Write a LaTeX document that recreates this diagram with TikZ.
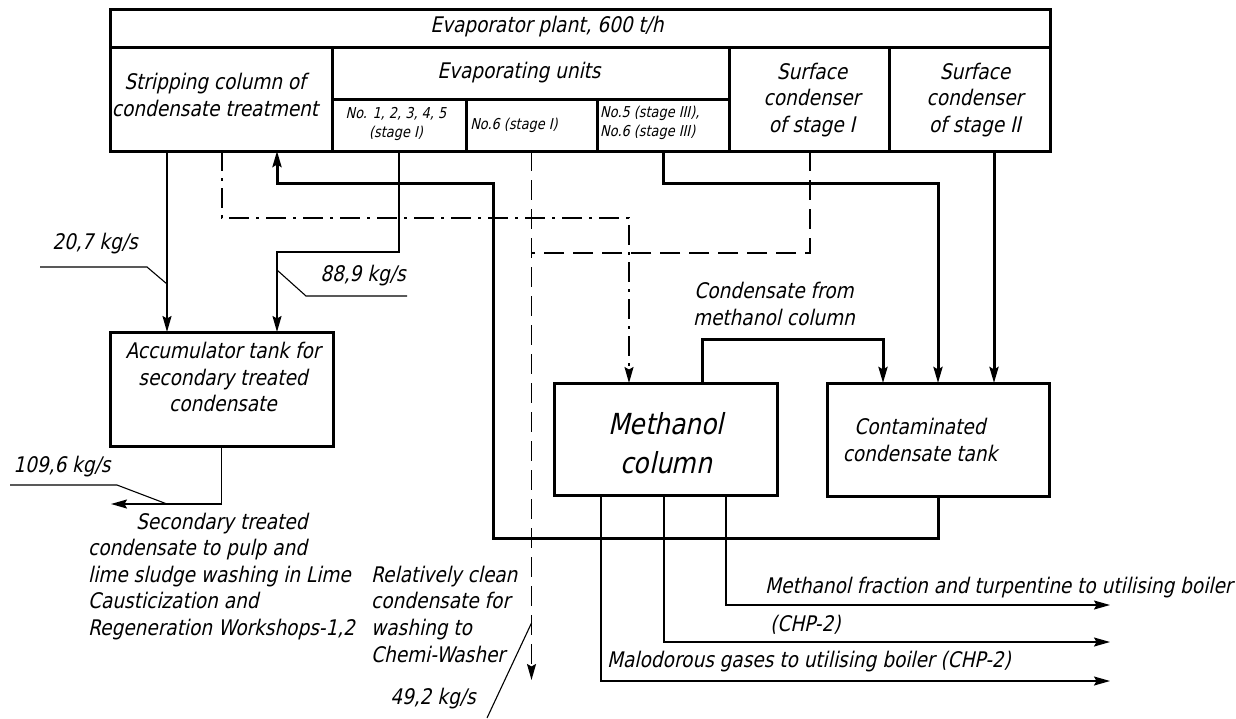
\documentclass[tikz,border=0pt]{standalone}
\usepackage{fontspec}
\setmainfont{DejaVu Sans}[FakeStretch=0.86,FakeSlant=0.22]
\usetikzlibrary{arrows.meta}
\begin{document}
\begin{tikzpicture}[x=1pt,y=-1pt,
  cell/.style={draw,line width=3pt,inner sep=0pt,outer sep=0pt},
  txt/.style={font=\fontsize{21.5}{26.5}\selectfont,inner sep=0pt,align=center},
  small/.style={font=\fontsize{15}{19}\selectfont,inner sep=0pt,align=center},
  big/.style={font=\fontsize{29}{39}\selectfont,inner sep=0pt,align=center},
  lt/.style={font=\fontsize{21.5}{26.5}\selectfont,inner sep=0pt,anchor=base west},
  arr/.style={-{Stealth[length=16pt,width=9pt,inset=2.5pt]}},
  flow/.style={line width=1.6pt,arr},
  thickflow/.style={line width=3pt,arr},
  leader/.style={line width=1.1pt},
  dashedl/.style={line width=1.6pt,dash pattern=on 20pt off 9pt},
  dashdot/.style={line width=1.6pt,dash pattern=on 20pt off 7pt on 3pt off 7pt},
]
\useasboundingbox (0,0) rectangle (1236,718);

% ---- top table ----
\node[cell,minimum width=940pt,minimum height=38pt] (title) at (580,28) {};
\node[cell,minimum width=222pt,minimum height=104pt] (strip) at (221,99) {};
\node[cell,minimum width=397pt,minimum height=52pt] (evap) at (530.5,73) {};
\node[cell,minimum width=134pt,minimum height=52pt] (u1) at (399,125) {};
\node[cell,minimum width=131pt,minimum height=52pt] (u2) at (531.5,125) {};
\node[cell,minimum width=132pt,minimum height=52pt] (u3) at (663,125) {};
\node[cell,minimum width=160pt,minimum height=104pt] (sc1) at (809,99) {};
\node[cell,minimum width=161pt,minimum height=104pt] (sc2) at (969.5,99) {};

\node[txt] (titletxt) at (547,27) {Evaporator plant, 600 t/h};
\node[txt] (striptxt) at (215,95) {Stripping column of\\condensate treatment};
\node[txt] (evaptxt) at (519,73) {Evaporating units};
\node[small] (u1txt) at (396,124) {No. 1, 2, 3, 4, 5\\(stage I)};
\node[small] (u2txt) at (514,125) {No.6 (stage I)};
\node[small,align=left,anchor=west] (u3txt) at (600,123) {No.5 (stage III),\\No.6 (stage III)};
\node[txt] (sc1txt) at (812,100) {Surface\\condenser\\of stage I};
\node[txt] (sc2txt) at (975,100) {Surface\\condenser\\of stage II};

% ---- lower boxes ----
\node[cell,minimum width=223pt,minimum height=114pt] (acc) at (221.5,389) {};
\node[txt] (acctxt) at (223,377) {Accumulator tank for\\secondary treated\\condensate};
\node[cell,minimum width=223pt,minimum height=112pt] (meth) at (665.5,439) {};
\node[big] (methtxt) at (666,443) {Methanol\\column};
\node[cell,minimum width=222pt,minimum height=113pt] (contam) at (938,439.5) {};
\node[txt] (contamtxt) at (920,440) {Contaminated\\condensate tank};

% ---- connectors ----
\draw[flow] (167,0 |- strip.south) -- (167,0 |- acc.north);
\draw[flow] (399,0 |- u1.south) -- (399,252) -- (277,252) -- (277,0 |- acc.north);
\draw[dashdot,arr] (222,0 |- strip.south) -- (222,218) -- (629,218) -- (629,0 |- meth.north);
\draw[thickflow] (contam.south) -- (938,538) -- (493,538) -- (493,183) -- (277,183) -- (277,0 |- strip.south);
\draw[thickflow] (u3.south) -- (663,183) -- (938,183) -- (938,0 |- contam.north);
\draw[thickflow] (994,0 |- sc2.south) -- (994,0 |- contam.north);
\draw[thickflow] (702,0 |- meth.north) -- (702,339) -- (883,339) -- (883,0 |- contam.north);
\draw[dashedl] (810,0 |- sc1.south) -- (810,253) -- (531.5,253);
\coordinate (cw) at (531.5,680);
\draw[dashedl,arr] (u2.south) -- (cw);
\coordinate (out1) at (111,504);
\draw[flow] (acc.south) -- (221.5,504) -- (out1);
\coordinate (o1) at (1110,605);
\coordinate (o2) at (1110,642);
\coordinate (o3) at (1110,681);
\draw[flow] (726,0 |- meth.south) -- (726,605) -- (o1);
\draw[flow] (664,0 |- meth.south) -- (664,642) -- (o2);
\draw[flow] (601,0 |- meth.south) -- (601,681) -- (o3);

\node[txt] (condfrom) at (774,304) {Condensate from\\methanol column};

% ---- leaders and flow labels ----
\draw[leader] (167,284) -- (147,267) -- (40,267);
\node[txt] (f1) at (95,244) {20,7 kg/s};
\draw[leader] (277,270) -- (306,296) -- (407,296);
\node[txt] (f2) at (363,276) {88,9 kg/s};
\draw[leader] (167,504) -- (117,485) -- (10,485);
\node[txt] (f3) at (62,467) {109,6 kg/s};
\draw[leader] (531.5,623) -- (487,718);
\node[txt] (f4) at (433,699) {49,2 kg/s};

% ---- free texts ----
\node[lt] (s1) at (136,529) {Secondary treated};
\node[lt] (s2) at (88,555) {condensate to pulp and};
\node[lt] (s3) at (88,582) {lime sludge washing in Lime};
\node[lt] (s4) at (88,608) {Causticization and};
\node[lt] (s5) at (88,635) {Regeneration Workshops-1,2};

\node[lt] (r1) at (371,582) {Relatively clean};
\node[lt] (r2) at (371,608) {condensate for};
\node[lt] (r3) at (371,635) {washing to};
\node[lt] (r4) at (371,662) {Chemi-Washer};

\node[lt] (m1) at (765,593) {Methanol fraction and turpentine to utilising boiler};
\node[lt] (m2) at (770,631) {(CHP-2)};
\node[lt] (m3) at (607,667) {Malodorous gases to utilising boiler (CHP-2)};
\end{tikzpicture}
\end{document}
